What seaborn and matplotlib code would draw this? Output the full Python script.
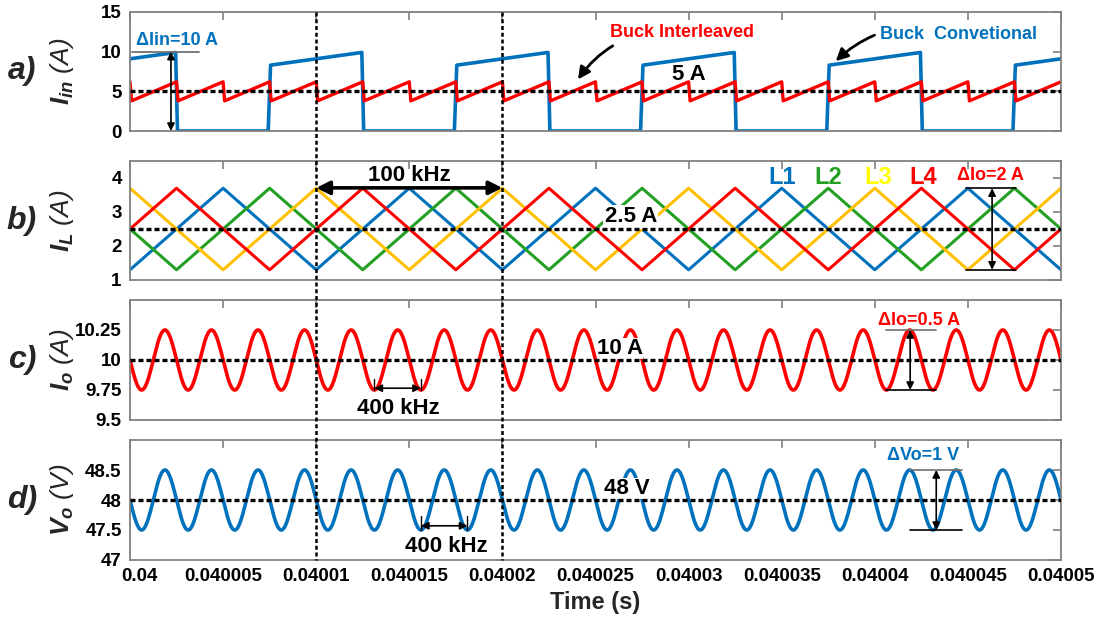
import numpy as np
import pandas as pd
import matplotlib
matplotlib.use("Agg")
import matplotlib.pyplot as plt
import matplotlib.transforms as mtransforms
from matplotlib.lines import Line2D
import seaborn as sns

# ------------------------------------------------------------------
# Data (time in microseconds after t = 0.04 s)
# ------------------------------------------------------------------
T0 = 0.04
tick_us = [0, 5, 10, 15, 20, 25, 30, 35, 40, 45, 50]
tick_labels = ["0.04", "0.040005", "0.04001", "0.040015", "0.04002",
               "0.040025", "0.04003", "0.040035", "0.04004", "0.040045", "0.04005"]

# a) conventional buck input current (vertices read from the picture)
conv_t = [0, 2.45, 2.55, 7.42, 7.55, 12.45, 12.55, 17.42, 17.55, 22.45, 22.55,
          27.42, 27.55, 32.45, 32.55, 37.42, 37.55, 42.45, 42.55, 47.42, 47.55, 50]
conv_i = [9.1, 9.9, 0, 0, 8.3, 9.9, 0, 0, 8.3, 9.9, 0,
          0, 8.3, 9.9, 0, 0, 8.3, 9.9, 0, 0, 8.3, 9.1]

# a) interleaved buck input current: sawtooth drops
inter_drop_t = [0, 2.5, 5, 7.5, 10, 12.5, 15, 17.5, 20, 22.5, 25, 27.5, 30,
                32.5, 35, 37.5, 40, 42.5, 45, 47.5]
inter_low, inter_high, inter_end = 3.8, 6.2, 6.2

# b) phase inductor currents
phase_names = ["L1", "L2", "L3", "L4"]
phase_peak_t = [5.0, 7.5, 0.0, 2.5]     # time of a current peak (µs)
phase_max, phase_min, phase_period = 3.7, 1.3, 10.0

# c) output current, d) output voltage
io_mean, io_pp = 10.0, 0.5
vo_mean, vo_pp = 48.0, 1.0
ripple_period = 2.5   # µs  (400 kHz)

ref_levels = [5, 2.5, 10, 48]
vline_us = [10, 20]

# ------------------------------------------------------------------
BLUE = "#0072BD"
RED = "#FF0000"
GREEN = "#23A023"
YELLOW = "#FFC000"
phase_colors = {"L1": BLUE, "L2": GREEN, "L3": YELLOW, "L4": RED}
label_colors = {"L1": BLUE, "L2": GREEN, "L3": "#FFFF00", "L4": RED}

sns.set_theme(style="white")
plt.rcParams["font.family"] = ["Liberation Sans", "DejaVu Sans"]
plt.rcParams["font.weight"] = "bold"
plt.rcParams["mathtext.fontset"] = "custom"
plt.rcParams["mathtext.it"] = "Liberation Sans:italic:bold"
plt.rcParams["mathtext.rm"] = "Liberation Sans:bold"
plt.rcParams["mathtext.bf"] = "Liberation Sans:bold"


def us(t):
    return T0 + np.asarray(t, dtype=float) * 1e-6


fig = plt.figure(figsize=(10.97, 6.22), dpi=100)
FW, FH = 1097, 622
L, W = 130 / FW, 931 / FW
boxes = [(12, 131), (161, 280), (300, 420), (440, 560)]
axes = [fig.add_axes([L, 1 - b / FH, W, (b - t) / FH]) for t, b in boxes]
axA, axB, axC, axD = axes

# ---------------- panel a ----------------
it, iv = [], []
for d in inter_drop_t:
    it += [d, d + 0.08]
    iv += [inter_high, inter_low]
it.append(50)
iv.append(inter_end)
sns.lineplot(x=us(conv_t), y=conv_i, ax=axA, color=BLUE, lw=2.6,
             sort=False, estimator=None, zorder=2)
sns.lineplot(x=us(it), y=iv, ax=axA, color=RED, lw=2.4,
             sort=False, estimator=None, zorder=2.5)

# ---------------- panel b ----------------
rows = []
for name, tp in zip(phase_names, phase_peak_t):
    half = phase_period / 2
    k0 = int(np.floor((0 - tp) / half)) - 1
    k1 = int(np.ceil((50 - tp) / half)) + 1
    for k in range(k0, k1 + 1):
        t = tp + k * half
        rows.append({"t": us(t), "i": phase_max if k % 2 == 0 else phase_min, "phase": name})
dfb = pd.DataFrame(rows)
sns.lineplot(data=dfb, x="t", y="i", hue="phase", palette=phase_colors, ax=axB,
             lw=2.2, sort=False, estimator=None, legend=False, zorder=2)

# ---------------- panels c, d ----------------
ts = np.linspace(0, 50, 4001)
io = io_mean - io_pp / 2 * np.sin(2 * np.pi * ts / ripple_period)
vo = vo_mean - vo_pp / 2 * np.sin(2 * np.pi * ts / ripple_period)
sns.lineplot(x=us(ts), y=io, ax=axC, color=RED, lw=2.6, sort=False, estimator=None, zorder=2)
sns.lineplot(x=us(ts), y=vo, ax=axD, color=BLUE, lw=2.6, sort=False, estimator=None, zorder=2)

# ---------------- axes styling ----------------
ylims = [(0, 15), (1, 4.5), (9.5, 10.5), (47, 49)]
yticks = [[0, 5, 10, 15], [1, 2, 3, 4], [9.5, 9.75, 10, 10.25], [47, 47.5, 48, 48.5]]
yticklabels = [["0", "5", "10", "15"], ["1", "2", "3", "4"],
               ["9.5", "9.75", "10", "10.25"], ["47", "47.5", "48", "48.5"]]
ylabels = [r"$I_{in}$ (A)", r"$I_{L}$ (A)", r"$I_{o}$ (A)", r"$V_{o}$ (V)"]
letters = ["a)", "b)", "c)", "d)"]

for k, ax in enumerate(axes):
    ax.set_xlim(us(0), us(50))
    ax.set_ylim(*ylims[k])
    ax.set_xticks(us(tick_us))
    ax.set_xticklabels(tick_labels if k == 3 else [""] * len(tick_us))
    ax.set_yticks(yticks[k])
    ax.set_yticklabels(yticklabels[k])
    ax.tick_params(direction="in", top=True, right=True, length=6, width=1.2,
                   color="#808080", labelsize=13.5, pad=6, labelcolor="black")
    for lab in ax.get_xticklabels() + ax.get_yticklabels():
        lab.set_fontweight("bold")
    for s in ax.spines.values():
        s.set_color("#808080")
        s.set_linewidth(1.3)
        s.set_visible(True)
    ax.set_xlabel("")
    ax.set_ylabel(ylabels[k], fontsize=19, fontweight="normal", fontstyle="italic")
    ax.yaxis.set_label_coords(-0.058, 0.5)
    ax.axhline(ref_levels[k], color="black", lw=2.4, linestyle=(0, (1.5, 0.9)), zorder=4)
    t, b = boxes[k]
    fig.text(22 / FW, 1 - (t + b) / 2 / FH, letters[k], fontsize=23,
             fontweight="bold", fontstyle="italic", ha="center", va="center")

# first time label sits a little right of its tick, as in the original
first = axD.get_xticklabels()[0]
first.set_transform(first.get_transform() +
                    mtransforms.ScaledTranslation(0.09, 0, fig.dpi_scale_trans))

axD.set_xlabel("Time (s)", fontsize=17, fontweight="bold", labelpad=4)

# vertical dotted lines spanning all panels
trans = mtransforms.blended_transform_factory(axA.transData, fig.transFigure)
for tv in vline_us:
    fig.add_artist(Line2D([us(tv), us(tv)], [1 - 12 / FH, 1 - 560 / FH], transform=trans,
                          color="black", lw=1.8, linestyle=(0, (1.6, 1.1)), zorder=5))

txt = dict(fontweight="bold", ha="center", va="center")
dbl = dict(arrowstyle="<|-|>", color="black", lw=1.2, mutation_scale=11, shrinkA=0, shrinkB=0)

# ---------------- annotations a ----------------
axA.plot(us([0.1, 3.7]), [10, 10], color="#707070", lw=1.3, zorder=3)
axA.annotate("", xy=(us(2.2), 0), xytext=(us(2.2), 10), arrowprops=dbl)
axA.text(us(2.5), 11.4, "ΔIin=10 A", color=BLUE, fontsize=13, **txt)
axA.text(us(30.0), 7.1, "5 A", color="black", fontsize=16, **txt)
axA.annotate("Buck Interleaved", xy=(us(24.06), 6.5), xytext=(us(25.8), 12.4),
             color=RED, fontsize=13, fontweight="bold", ha="left", va="center",
             arrowprops=dict(arrowstyle="-|>", color="black", lw=2, mutation_scale=18,
                             connectionstyle="arc3,rad=0.3", shrinkA=2, shrinkB=0))
axA.annotate("Buck  Convetional", xy=(us(37.9), 8.8), xytext=(us(40.3), 12.2),
             color=BLUE, fontsize=13, fontweight="bold", ha="left", va="center",
             arrowprops=dict(arrowstyle="-|>", color="black", lw=2, mutation_scale=18,
                             connectionstyle="arc3,rad=0.3", shrinkA=2, shrinkB=0))

# ---------------- annotations b ----------------
axB.annotate("", xy=(us(10), 3.71), xytext=(us(20), 3.71),
             arrowprops=dict(arrowstyle="<|-|>", color="black", lw=2.6, mutation_scale=20,
                             shrinkA=0, shrinkB=0), zorder=6)
axB.text(us(15.0), 4.08, "100 kHz", color="black", fontsize=16, **txt)
axB.text(us(26.9), 2.86, "2.5 A", color="black", fontsize=16, zorder=3,
         bbox=dict(facecolor="white", edgecolor="none", pad=1), **txt)
for name, tx in zip(phase_names, [35.0, 37.5, 40.2, 42.6]):
    axB.text(us(tx), 4.0, name, color=label_colors[name], fontsize=17, **txt)
axB.text(us(46.2), 4.08, "ΔIo=2 A", color=RED, fontsize=13, **txt)
axB.plot(us([44.9, 47.6]), [3.7, 3.7], color="black", lw=1.2, zorder=3)
axB.plot(us([44.9, 47.6]), [1.3, 1.3], color="black", lw=1.2, zorder=3)
axB.annotate("", xy=(us(46.3), 1.3), xytext=(us(46.3), 3.7), arrowprops=dbl)

# ---------------- annotations c ----------------
for tv in [13.125, 15.625]:
    axC.plot(us([tv, tv]), [9.75, 9.84], color="black", lw=1.0, zorder=3)
axC.annotate("", xy=(us(13.125), 9.765), xytext=(us(15.625), 9.765), arrowprops=dbl)
axC.text(us(14.4), 9.60, "400 kHz", color="black", fontsize=16, **txt)
axC.text(us(26.3), 10.1, "10 A", color="black", fontsize=16, zorder=3,
         bbox=dict(facecolor="white", edgecolor="none", pad=0), **txt)
axC.text(us(42.4), 10.33, "ΔIo=0.5 A", color=RED, fontsize=13, **txt)
axC.plot(us([40.6, 43.3]), [10.25, 10.25], color="#707070", lw=1.2, zorder=3)
axC.plot(us([40.6, 43.3]), [9.75, 9.75], color="black", lw=1.2, zorder=3)
axC.annotate("", xy=(us(41.9), 9.75), xytext=(us(41.9), 10.25), arrowprops=dbl)

# ---------------- annotations d ----------------
for tv in [15.625, 18.125]:
    axD.plot(us([tv, tv]), [47.5, 47.73], color="black", lw=1.0, zorder=3)
axD.annotate("", xy=(us(15.625), 47.57), xytext=(us(18.125), 47.57), arrowprops=dbl)
axD.text(us(17.0), 47.22, "400 kHz", color="black", fontsize=16, **txt)
axD.text(us(26.7), 48.19, "48 V", color="black", fontsize=16, zorder=3,
         bbox=dict(facecolor="white", edgecolor="none", pad=0), **txt)
axD.text(us(42.6), 48.74, "ΔVo=1 V", color=BLUE, fontsize=13, **txt)
axD.plot(us([41.9, 44.7]), [48.5, 48.5], color="#707070", lw=1.2, zorder=3)
axD.plot(us([41.9, 44.7]), [47.5, 47.5], color="black", lw=1.2, zorder=3)
axD.annotate("", xy=(us(43.3), 47.5), xytext=(us(43.3), 48.5), arrowprops=dbl)

fig.savefig("out.png", dpi=100)
